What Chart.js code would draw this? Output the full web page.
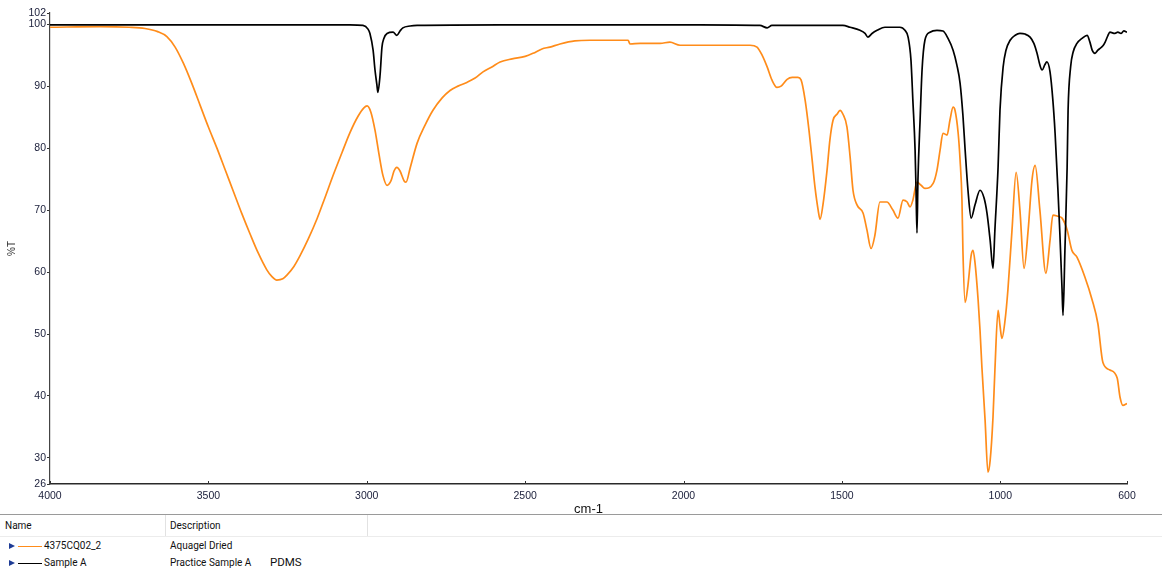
<!DOCTYPE html>
<html><head><meta charset="utf-8">
<script src="https://cdn.jsdelivr.net/npm/chart.js@4/dist/chart.umd.min.js"></script>
<style>
html,body{margin:0;padding:0;background:#fff;width:1162px;height:570px;overflow:hidden;}
#wrap{position:absolute;left:0;top:0;width:1162px;height:514px;}
#tbl{position:absolute;left:0;top:514px;width:1162px;height:56px;border-top:1px solid #9a9a9a;font-family:Roboto,"Open Sans",sans-serif;font-size:10px;color:#111;}
.t{position:absolute;white-space:nowrap;line-height:14px;height:14px;}
.vs{position:absolute;top:0;width:1px;height:21px;background:#e2e2e2;}
.hl{position:absolute;left:0;top:21px;width:1162px;height:1px;background:#ececec;}
.tri{position:absolute;width:0;height:0;border-top:3px solid transparent;border-bottom:3px solid transparent;border-left:6px solid #1e3c96;}
.sw{position:absolute;width:24px;height:1px;}
</style>
</head>
<body>
<div id="wrap"><canvas id="c" width="1162" height="514"></canvas></div>
<div id="tbl">
  <div class="t" style="left:5px;top:4px;">Name</div>
  <div class="vs" style="left:165px;"></div>
  <div class="t" style="left:170px;top:4px;">Description</div>
  <div class="vs" style="left:367px;"></div>
  <div class="hl"></div>
  <div class="tri" style="left:9px;top:28px;"></div>
  <div class="sw" style="left:18px;top:31px;background:#ff8c1a;"></div>
  <div class="t" id="n0" style="left:44px;top:24px;"></div>
  <div class="t" style="left:170px;top:24px;">Aquagel Dried</div>
  <div class="tri" style="left:9px;top:45px;"></div>
  <div class="sw" style="left:18px;top:48px;background:#000;"></div>
  <div class="t" id="n1" style="left:44px;top:41px;"></div>
  <div class="t" style="left:170px;top:41px;">Practice Sample A</div>
  <div class="t" style="left:270px;top:40px;font-size:11.5px;">PDMS</div>
</div>
<script>
const seriesNames = ['4375CQ02_2', 'Sample A'];

const orangeWn = [4000,3842,
3750,3700,3660,3631,3605,3579,3552,3526,3500,3473,
3447,3421,3395,3368,3342,3316,3300,3284,3265,3252,
3230,3211,3185,3157,3132,3107,3078,3053,3028,3009,2999,
2987,2974,2961,2949,2936,2923,2914,2905,2895,
2882,2876,2863,2841,2816,2791,2762,2737,2712,2684,
2658,2633,2605,2579,2541,2500,2475,2447,2422,2390,
2343,2295,2232,2175,2169,2137,2074,2043,2011,1948,
1853,1790,1768,1752,1736,1721,1705,1692,1673,1657,
1639,1629,1616,1604,1594,1585,1575,1569,1560,1547,
1538,1528,1515,1506,1497,1484,1474,1465,1452,1433,
1421,1408,1396,1380,1358,1339,1323,1307,1294,1285,
1276,1263,1250,1238,1212,1200,1190,1181,1168,1159,
1149,1143,1133,1127,1121,1118,1111,1102,1092,1086,
1080,1070,1064,1058,1048,1039,1032,1023,1017,1007,
1001,995,985,976,963,950,938,925,912,900,
890,875,856,843,834,818,805,789,774,758,
733,710,692,676,654,631,622,613,600];
const orangeT = [99.5,99.6,
99.5,99.3,98.8,98.0,96.3,93.7,90.4,86.9,83.4,80.0,
76.5,73.0,69.5,66.1,63.0,60.4,59.3,58.7,58.9,59.5,
60.9,62.6,65.3,68.6,72.0,75.5,79.3,82.5,85.1,86.5,86.8,
85.8,82.9,78.9,75.6,74.0,74.8,76.3,76.9,76.3,
74.7,74.5,76.8,80.8,83.7,86.1,88.1,89.3,90.0,90.6,
91.3,92.3,93.1,93.9,94.4,94.8,95.3,96.0,96.3,96.8,
97.3,97.4,97.4,97.4,96.8,96.9,96.9,97.1,96.6,96.6,
96.6,96.6,96.3,95.0,93.1,91.0,89.8,90.0,91.1,91.4,
91.4,91.0,87.7,82.9,78.1,73.7,70.0,68.5,70.8,76.4,
81.3,84.5,85.5,86.1,85.5,83.4,78.5,73.2,70.8,69.5,
66.8,63.8,65.9,71.3,71.3,70.0,68.7,71.6,71.3,70.5,
71.6,74.5,74.0,73.5,74.3,76.4,79.7,82.4,82.1,84.5,
86.6,86.1,82.4,78.1,71.6,63.5,55.1,57.9,62.7,63.5,
61.6,55.5,50.6,44.6,36.1,27.7,29.6,36.6,44.2,53.8,
51.4,49.3,52.2,57.1,66.8,76.1,70.0,60.6,66.8,74.8,
77.2,70.0,59.8,65.1,69.2,69.0,68.7,66.8,63.5,62.4,
59.2,55.5,51.7,45.4,44.2,42.9,39.8,38.5,38.8];

const blackWn = [4000,3842,3526,3211,3053,3012,2996,2990,2980,2974,
2968,2965,2958,2952,2946,2936,2917,2905,2895,2886,
2863,2841,2579,2264,1948,1759,1736,1721,1632,1497,
1474,1443,1427,1418,1405,1389,1364,1317,1301,1291,
1282,1276,1269,1266,1263,1260,1253,1247,1238,1222,
1200,1181,1165,1149,1137,1127,1118,1111,1102,1092,
1080,1064,1051,1042,1032,1023,1017,1007,1001,991,
982,969,953,938,922,906,894,884,875,868,
859,853,843,834,827,818,812,805,802,796,
789,786,778,770,758,742,726,717,710,701,
692,685,676,669,660,654,638,629,619,610,600];
const blackT = [99.9,99.9,99.9,99.9,99.9,99.8,99.2,98.5,95.8,92.6,
90.2,89.0,91.8,96.3,97.7,98.5,98.7,98.2,98.9,99.4,
99.7,99.8,99.9,99.9,99.9,99.8,99.4,99.8,99.8,99.8,
99.5,99.0,98.5,97.9,98.5,99.0,99.5,99.5,99.0,97.9,
94.2,87.7,79.7,73.2,66.3,74.8,84.8,92.6,97.4,98.7,
99.0,98.9,97.7,95.8,93.4,90.5,85.3,79.7,73.2,68.7,
70.8,73.2,71.9,69.5,65.1,60.6,66.8,76.9,86.1,93.1,
95.8,97.4,98.2,98.5,98.4,97.9,96.9,95.3,93.4,92.6,
93.5,93.9,92.3,87.7,82.4,73.2,66.3,57.1,53.0,63.5,
76.9,86.1,93.1,95.5,96.9,97.7,98.2,97.1,95.8,95.3,
95.8,96.1,96.5,97.1,98.2,98.7,98.5,98.7,98.5,98.9,98.7];

const xTicks = [4000,3500,3000,2500,2000,1500,1000,600];
const yTicks = [25.8,30,40,50,60,70,80,90,100,101.8];
const X_MIN = 600, X_MAX = 4000, Y_MIN = 25.8, Y_MAX = 101.8;

document.getElementById('n0').textContent = seriesNames[0];
document.getElementById('n1').textContent = seriesNames[1];

const toPts = (xs, ys) => xs.map((x, i) => ({x: x, y: ys[i]}));

const innerTicks = {
  id: 'innerTicks',
  afterDraw(chart) {
    const xs = chart.scales.x, ctx = chart.ctx, y = chart.chartArea.bottom;
    ctx.save();
    ctx.strokeStyle = '#333';
    ctx.lineWidth = 1;
    xs.ticks.forEach(t => {
      const px = Math.round(xs.getPixelForValue(t.value)) + 0.5;
      ctx.beginPath(); ctx.moveTo(px, y); ctx.lineTo(px, y - 3); ctx.stroke();
    });
    ctx.restore();
  }
};

const tickFont = {family: '"Liberation Sans", Arial, sans-serif', size: 10.5};
const tickColor = '#20243f';

new Chart(document.getElementById('c'), {
  type: 'line',
  data: {
    datasets: [
      {label: seriesNames[0], data: toPts(orangeWn, orangeT), borderColor: '#ff8c1a', borderWidth: 1.7,
       pointRadius: 0, fill: false, cubicInterpolationMode: 'monotone', order: 1},
      {label: seriesNames[1], data: toPts(blackWn, blackT), borderColor: '#000000', borderWidth: 1.7,
       pointRadius: 0, fill: false, cubicInterpolationMode: 'monotone', order: 0}
    ]
  },
  options: {
    responsive: false,
    animation: false,
    devicePixelRatio: 1,
    layout: {padding: {top: 13, right: 35, left: 0, bottom: 0}},
    plugins: {legend: {display: false}, tooltip: {enabled: false}},
    scales: {
      x: {
        type: 'linear', reverse: true, min: X_MIN, max: X_MAX,
        afterBuildTicks: s => { s.ticks = xTicks.map(v => ({value: v})); },
        afterFit: s => { s.height = 30; },
        grid: {display: true, drawOnChartArea: false, drawTicks: false},
        border: {display: true, color: '#2a2a2a', width: 1.5},
        ticks: {font: tickFont, color: tickColor, padding: 6, autoSkip: false, maxRotation: 0,
                callback: v => String(v)},
        title: {display: true, text: 'cm-1', color: '#111',
                font: {family: '"Liberation Sans", Arial, sans-serif', size: 13, lineHeight: 0.7},
                padding: {top: 0, bottom: 0}}
      },
      y: {
        type: 'linear', min: Y_MIN, max: Y_MAX,
        afterBuildTicks: s => { s.ticks = yTicks.map(v => ({value: v})); },
        afterFit: s => { s.width = 50; },
        grid: {display: true, drawOnChartArea: false, drawTicks: true, tickLength: 3, color: '#333'},
        border: {display: true, color: '#444', width: 1.2},
        ticks: {font: tickFont, color: tickColor, padding: 1, autoSkip: false,
                callback: v => String(Math.round(v))},
        title: {display: true, text: '%T', color: '#333',
                font: {family: '"Liberation Sans", Arial, sans-serif', size: 10},
                padding: {top: 6, bottom: 0}}
      }
    }
  },
  plugins: [innerTicks]
});
</script>
</body></html>
